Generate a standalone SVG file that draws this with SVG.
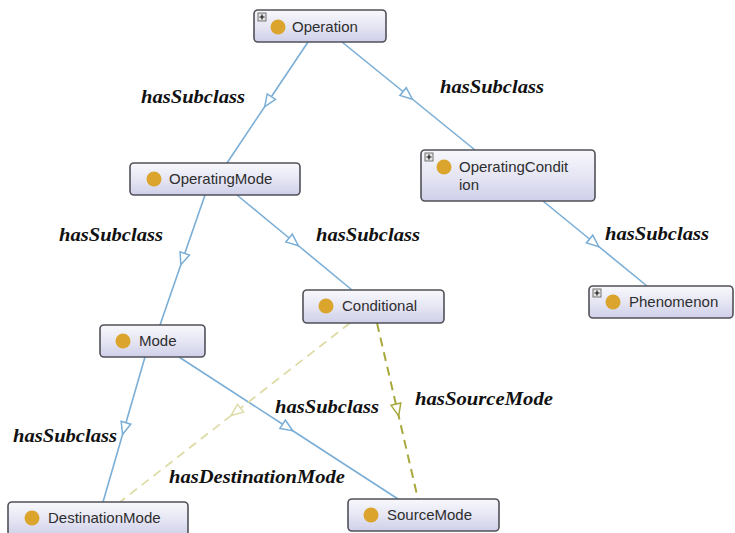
<svg xmlns="http://www.w3.org/2000/svg" width="735" height="533" viewBox="0 0 735 533">
<style>
.node rect.box{fill:url(#g);stroke:#505058;stroke-width:1.6}
.dot{fill:#dba42c}
.nt{font-family:"Liberation Sans",Arial,sans-serif;font-size:15px;fill:#2e2e2e}
.lbl{font-family:"Liberation Serif","Times New Roman",serif;font-size:19px;font-weight:bold;font-style:italic;fill:#111}
.plus rect{fill:#e4e4e4;stroke:#666;stroke-width:0.9}
.plus path{stroke:#111;stroke-width:1.2}
.sub{stroke:#7aaed6;stroke-width:1.6;fill:none;marker-mid:url(#ab)}
.dst{stroke:#dedca6;stroke-width:1.8;fill:none;stroke-dasharray:9 6;marker-mid:url(#ap)}
.src{stroke:#a8a83c;stroke-width:2;fill:none;stroke-dasharray:9 6;marker-mid:url(#ao)}
</style>
<defs>
<linearGradient id="g" x1="0" y1="0" x2="0" y2="1">
<stop offset="0" stop-color="#f8f8fc"/>
<stop offset="0.5" stop-color="#e6e6f4"/>
<stop offset="1" stop-color="#cfcfe9"/>
</linearGradient>
<marker id="ab" markerUnits="userSpaceOnUse" markerWidth="16" markerHeight="12" refX="7" refY="5" orient="auto" overflow="visible">
<path d="M0,0 L12,5 L0,10 Z" fill="#fff" stroke="#7aaed6" stroke-width="1.5" stroke-dasharray="none"/>
</marker>
<marker id="ap" markerUnits="userSpaceOnUse" markerWidth="16" markerHeight="12" refX="7" refY="5" orient="auto" overflow="visible">
<path d="M0,0 L12,5 L0,10 Z" fill="#fff" stroke="#dedca6" stroke-width="1.5" stroke-dasharray="none"/>
</marker>
<marker id="ao" markerUnits="userSpaceOnUse" markerWidth="16" markerHeight="12" refX="7" refY="5" orient="auto" overflow="visible">
<path d="M0,0 L12,5 L0,10 Z" fill="#fff" stroke="#a8a83c" stroke-width="1.5" stroke-dasharray="none"/>
</marker>
</defs>
<rect width="735" height="533" fill="#fff"/>
<g id="connectors">
<path class="sub" d="M308,42 L267.5,102.5 L227,163"/>
<path class="sub" d="M342,42 L408.5,96 L475,150"/>
<path class="sub" d="M543,201 L595,243.5 L647,286"/>
<path class="sub" d="M205,195 L182.5,260 L160,325"/>
<path class="sub" d="M237,195 L294.5,242.5 L352,290"/>
<path class="sub" d="M145,357 L124,429.5 L103,502"/>
<path class="sub" d="M179,357 L288.5,428 L398,499"/>
<path class="dst" d="M350,323 L235,412.5 L120,502"/>
<path class="src" d="M377,323 L397.5,411 L418,499"/>
</g>
<g id="labels">
<text class="lbl" x="141" y="103" textLength="104" lengthAdjust="spacingAndGlyphs">hasSubclass</text>
<text class="lbl" x="440" y="93" textLength="104" lengthAdjust="spacingAndGlyphs">hasSubclass</text>
<text class="lbl" x="59" y="241" textLength="104" lengthAdjust="spacingAndGlyphs">hasSubclass</text>
<text class="lbl" x="316" y="241" textLength="104" lengthAdjust="spacingAndGlyphs">hasSubclass</text>
<text class="lbl" x="605" y="240" textLength="104" lengthAdjust="spacingAndGlyphs">hasSubclass</text>
<text class="lbl" x="275" y="413" textLength="104" lengthAdjust="spacingAndGlyphs">hasSubclass</text>
<text class="lbl" x="415" y="405" textLength="138" lengthAdjust="spacingAndGlyphs">hasSourceMode</text>
<text class="lbl" x="13" y="442" textLength="104" lengthAdjust="spacingAndGlyphs">hasSubclass</text>
<text class="lbl" x="169" y="483" textLength="176" lengthAdjust="spacingAndGlyphs">hasDestinationMode</text>
</g>
<g id="Operation" class="node">
<rect class="box" x="254" y="10" width="132" height="32" rx="4"/>
<g class="plus"><rect x="258" y="13" width="8" height="8"/><path d="M259.5,17 H264.5 M262,14.5 V19.5"/></g>
<circle class="dot" cx="278" cy="27" r="7.5"/>
<text class="nt" x="292" y="31.5">Operation</text>
</g>
<g id="OperatingCondition" class="node">
<rect class="box" x="421" y="150" width="174" height="51" rx="4"/>
<g class="plus"><rect x="425" y="153" width="8" height="8"/><path d="M426.5,157 H431.5 M429,154.5 V159.5"/></g>
<circle class="dot" cx="444" cy="167" r="7.5"/>
<text class="nt" x="459" y="172">OperatingCondit</text>
<text class="nt" x="459" y="190">ion</text>
</g>
<g id="OperatingMode" class="node">
<rect class="box" x="130" y="163" width="170" height="32" rx="4"/>
<circle class="dot" cx="154" cy="179" r="7.5"/>
<text class="nt" x="169" y="184">OperatingMode</text>
</g>
<g id="Phenomenon" class="node">
<rect class="box" x="589" y="286" width="144" height="32" rx="4"/>
<g class="plus"><rect x="593" y="289" width="8" height="8"/><path d="M594.5,293 H599.5 M597,290.5 V295.5"/></g>
<circle class="dot" cx="613" cy="302" r="7.5"/>
<text class="nt" x="629" y="307">Phenomenon</text>
</g>
<g id="Conditional" class="node">
<rect class="box" x="303" y="290" width="141" height="33" rx="4"/>
<circle class="dot" cx="326" cy="306" r="7.5"/>
<text class="nt" x="342" y="311">Conditional</text>
</g>
<g id="Mode" class="node">
<rect class="box" x="100" y="325" width="105" height="32" rx="4"/>
<circle class="dot" cx="123" cy="341" r="7.5"/>
<text class="nt" x="139" y="346">Mode</text>
</g>
<g id="DestinationMode" class="node">
<rect class="box" x="8" y="502" width="180" height="34" rx="4"/>
<circle class="dot" cx="32" cy="518" r="7.5"/>
<text class="nt" x="48" y="523">DestinationMode</text>
</g>
<g id="SourceMode" class="node">
<rect class="box" x="348" y="499" width="151" height="32" rx="4"/>
<circle class="dot" cx="371" cy="515" r="7.5"/>
<text class="nt" x="387" y="520">SourceMode</text>
</g>
</svg>
